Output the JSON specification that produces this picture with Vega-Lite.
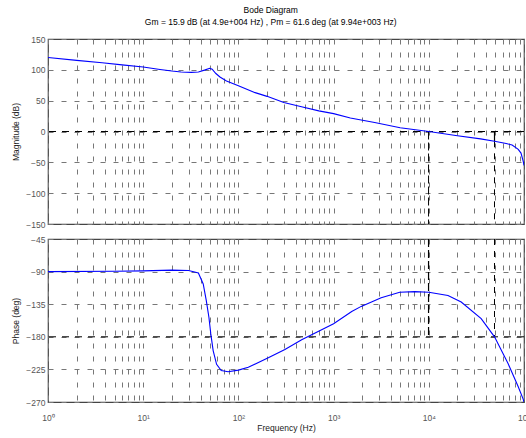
{
  "$schema": "https://vega.github.io/schema/vega-lite/v6.json",
  "padding": {"left": 10, "top": 6, "right": 0, "bottom": 0},
  "background": "white",
  "title": {
    "text": "Bode Diagram",
    "subtitle": "Gm = 15.9 dB (at 4.9e+004 Hz) ,  Pm = 61.6 deg (at 9.94e+003 Hz)",
    "font": "Liberation Sans",
    "fontSize": 8.5,
    "fontWeight": "normal",
    "color": "#000",
    "subtitleFont": "Liberation Sans",
    "subtitleFontSize": 8.5,
    "subtitleColor": "#000",
    "subtitlePadding": 3,
    "offset": 8,
    "anchor": "middle"
  },
  "datasets": {
    "mag": [
      {"f": 1, "mag": 120}, {"f": 2, "mag": 115.3}, {"f": 3.7, "mag": 111.4}, {"f": 6, "mag": 108},
      {"f": 10, "mag": 104.6}, {"f": 15, "mag": 100.5}, {"f": 20, "mag": 98}, {"f": 25, "mag": 96.5},
      {"f": 32, "mag": 95.8}, {"f": 38, "mag": 96.5}, {"f": 44, "mag": 99.5}, {"f": 50, "mag": 102.5},
      {"f": 53, "mag": 101}, {"f": 58, "mag": 94}, {"f": 64, "mag": 88.4}, {"f": 75, "mag": 82},
      {"f": 100, "mag": 74.3}, {"f": 150, "mag": 63}, {"f": 200, "mag": 57}, {"f": 300, "mag": 47},
      {"f": 460, "mag": 40}, {"f": 700, "mag": 33.5}, {"f": 1000, "mag": 29}, {"f": 1500, "mag": 22},
      {"f": 2700, "mag": 14.5}, {"f": 5000, "mag": 6}, {"f": 10000, "mag": 0}, {"f": 20000, "mag": -7},
      {"f": 35000, "mag": -12}, {"f": 49000, "mag": -15.9}, {"f": 65000, "mag": -19.5}, {"f": 75000, "mag": -22},
      {"f": 87000, "mag": -29}, {"f": 93000, "mag": -35}, {"f": 98000, "mag": -48}, {"f": 100000, "mag": -55}
    ],
    "phase": [
      {"f": 1, "phase": -90}, {"f": 5, "phase": -89.5}, {"f": 10, "phase": -89}, {"f": 20, "phase": -88},
      {"f": 30, "phase": -88.5}, {"f": 38, "phase": -92}, {"f": 42.7, "phase": -107}, {"f": 46, "phase": -130},
      {"f": 49, "phase": -153}, {"f": 51.3, "phase": -176}, {"f": 54.3, "phase": -199}, {"f": 59, "phase": -218},
      {"f": 66, "phase": -226.5}, {"f": 78, "phase": -228.3}, {"f": 100, "phase": -226}, {"f": 127, "phase": -222},
      {"f": 206, "phase": -209}, {"f": 308, "phase": -197.5}, {"f": 462, "phase": -184}, {"f": 1000, "phase": -162},
      {"f": 1550, "phase": -145}, {"f": 1950, "phase": -138}, {"f": 3160, "phase": -126}, {"f": 4950, "phase": -118.5},
      {"f": 7130, "phase": -117.6}, {"f": 10000, "phase": -118.4}, {"f": 15900, "phase": -123}, {"f": 21900, "phase": -132},
      {"f": 35500, "phase": -155}, {"f": 49000, "phase": -180}, {"f": 68000, "phase": -217}, {"f": 87000, "phase": -249},
      {"f": 98000, "phase": -266}, {"f": 100000, "phase": -270}
    ],
    "one": [{}]
  },
  "vconcat": [
    {
      "width": 476,
      "height": 185,
      "layer": [
        {
          "data": {"name": "one"},
          "mark": {"type": "rule", "color": "#000", "strokeDash": [7, 6], "strokeWidth": 1},
          "encoding": {"y": {"datum": 0, "type": "quantitative"}}
        },
        {
          "data": {"name": "one"},
          "mark": {"type": "rule", "color": "#000", "strokeDash": [8, 3], "strokeWidth": 1},
          "encoding": {
            "x": {"datum": 9940, "type": "quantitative"},
            "y": {"datum": 0, "type": "quantitative"},
            "y2": {"datum": -150}
          }
        },
        {
          "data": {"name": "one"},
          "mark": {"type": "rule", "color": "#000", "strokeWidth": 1.2},
          "encoding": {
            "x": {"datum": 49000, "type": "quantitative"},
            "y": {"datum": 0, "type": "quantitative"},
            "y2": {"datum": -15.9}
          }
        },
        {
          "data": {"name": "one"},
          "mark": {"type": "rule", "color": "#000", "strokeDash": [6, 6], "strokeWidth": 1},
          "encoding": {
            "x": {"datum": 49000, "type": "quantitative"},
            "y": {"datum": -15.9, "type": "quantitative"},
            "y2": {"datum": -150}
          }
        },
        {
          "data": {"name": "mag"},
          "mark": {"type": "line", "color": "#0000ff", "strokeWidth": 1.1, "clip": true},
          "encoding": {
            "x": {
              "field": "f", "type": "quantitative",
              "scale": {"type": "log", "domain": [1, 100000], "nice": false},
              "axis": {
                "title": null, "labels": false, "ticks": false, "domain": false, "tickCount": 100,
                "values": [1,2,3,4,5,6,7,8,9,10,20,30,40,50,60,70,80,90,100,200,300,400,500,600,700,800,900,1000,2000,3000,4000,5000,6000,7000,8000,9000,10000,20000,30000,40000,50000,60000,70000,80000,90000,100000]
              }
            },
            "y": {
              "field": "mag", "type": "quantitative",
              "scale": {"domain": [-150, 150], "nice": false, "zero": false},
              "axis": {"title": "Magnitude (dB)", "tickCount": 20, "labelOverlap": false, "labelBound": false, "values": [-150, -100, -50, 0, 50, 100, 150]}
            }
          }
        }
      ]
    },
    {
      "width": 476,
      "height": 163,
      "layer": [
        {
          "data": {"name": "one"},
          "mark": {"type": "rule", "color": "#000", "strokeDash": [7, 6], "strokeWidth": 1},
          "encoding": {"y": {"datum": -180, "type": "quantitative"}}
        },
        {
          "data": {"name": "one"},
          "mark": {"type": "rule", "color": "#000", "strokeDash": [8, 3], "strokeWidth": 1.2},
          "encoding": {
            "x": {"datum": 9940, "type": "quantitative"},
            "y": {"datum": -45, "type": "quantitative"},
            "y2": {"datum": -180}
          }
        },
        {
          "data": {"name": "one"},
          "mark": {"type": "rule", "color": "#000", "strokeDash": [6, 6], "strokeWidth": 1},
          "encoding": {
            "x": {"datum": 49000, "type": "quantitative"},
            "y": {"datum": -45, "type": "quantitative"},
            "y2": {"datum": -180}
          }
        },
        {
          "data": {"name": "phase"},
          "mark": {"type": "line", "color": "#0000ff", "strokeWidth": 1.1, "clip": true},
          "encoding": {
            "x": {
              "field": "f", "type": "quantitative",
              "scale": {"type": "log", "domain": [1, 100000], "nice": false},
              "axis": {
                "title": "Frequency (Hz)", "ticks": false, "domain": false, "tickCount": 100,
                "labelFlush": false, "labelOverlap": false, "labelPadding": 11, "titlePadding": 2,
                "values": [1,2,3,4,5,6,7,8,9,10,20,30,40,50,60,70,80,90,100,200,300,400,500,600,700,800,900,1000,2000,3000,4000,5000,6000,7000,8000,9000,10000,20000,30000,40000,50000,60000,70000,80000,90000,100000],
                "labelExpr": "datum.value == 1 ? '10⁰' : datum.value == 10 ? '10¹' : datum.value == 100 ? '10²' : datum.value == 1000 ? '10³' : datum.value == 10000 ? '10⁴' : datum.value == 100000 ? '10⁵' : ''"
              }
            },
            "y": {
              "field": "phase", "type": "quantitative",
              "scale": {"domain": [-270, -45], "nice": false, "zero": false},
              "axis": {"title": "Phase (deg)", "tickCount": 20, "labelOverlap": false, "labelBound": false, "values": [-270, -225, -180, -135, -90, -45]}
            }
          }
        }
      ]
    }
  ],
  "spacing": 4,
  "config": {
    "view": {"stroke": "#444", "strokeWidth": 1.2},
    "axis": {
      "labelFont": "Liberation Sans", "labelFontSize": 8.5, "labelColor": "#555",
      "titleFont": "Liberation Sans", "titleFontSize": 8.5, "titleFontWeight": "normal", "titleColor": "#222",
      "grid": true, "gridColor": "#777", "gridDash": [5, 8], "gridWidth": 1, "gridOpacity": 1,
      "domain": false, "ticks": false, "labelPadding": 3, "labelOverlap": false
    },
    "axisY": {"minExtent": 24, "maxExtent": 24, "titlePadding": 4, "labelOverlap": false}
  }
}
